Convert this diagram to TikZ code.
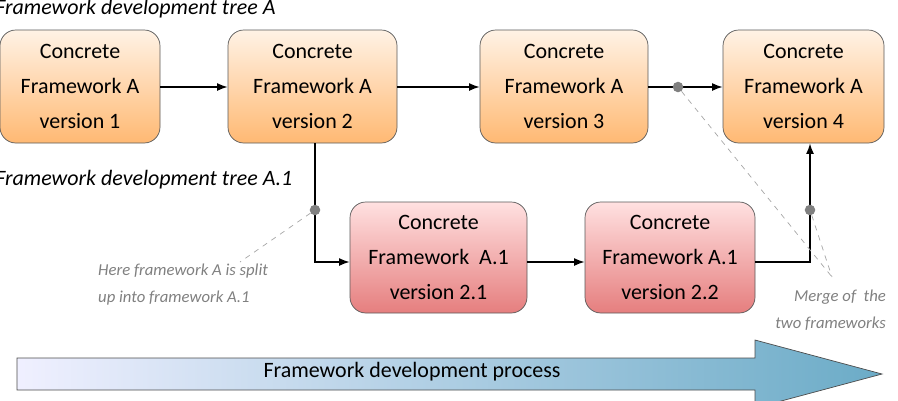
\documentclass[tikz,border=0pt]{standalone}
\usepackage{fontspec}
\setmainfont{Carlito}
\usetikzlibrary{arrows.meta}
\begin{document}
\begin{tikzpicture}[x=0.02cm,y=-0.02cm,
 fwA/.style={draw=gray!70!black,rounded corners=9pt,top color=orange!10,bottom color=orange!55!white,align=center,font=\fontsize{12.5}{20}\selectfont,inner sep=0pt},
 fwB/.style={draw=gray!70!black,rounded corners=9pt,top color=red!12,bottom color=red!45!white!90!black,align=center,font=\fontsize{12.5}{20}\selectfont,inner sep=0pt},
 conn/.style={thick,-{Latex[length=6pt]}},
 dotc/.style={circle,fill=gray,inner sep=0pt,minimum size=6pt},
 note/.style={gray,font=\itshape\fontsize{9.5}{15}\selectfont,align=left},
 guideline/.style={draw=gray!70,dashed}]
\useasboundingbox (0,0) rectangle (898,400);
\node[fwA,minimum width=160*0.02cm,minimum height=113*0.02cm] (a1) at (80,86.5) {Concrete\\Framework A\\version 1};
\node[fwA,minimum width=169*0.02cm,minimum height=113*0.02cm] (a2) at (312.5,86.5) {Concrete\\Framework A\\version 2};
\node[fwA,minimum width=168*0.02cm,minimum height=113*0.02cm] (a3) at (564,86.5) {Concrete\\Framework A\\version 3};
\node[fwA,minimum width=161*0.02cm,minimum height=113*0.02cm] (a4) at (803.5,86.5) {Concrete\\Framework A\\version 4};
\node[fwB,minimum width=177*0.02cm,minimum height=111*0.02cm] (b1) at (438.5,257.5) {Concrete\\Framework~ A.1\\version 2.1};
\node[fwB,minimum width=170*0.02cm,minimum height=111*0.02cm] (b2) at (670,257.5) {Concrete\\Framework A.1\\version 2.2};
\node[anchor=west,font=\itshape\fontsize{12.5}{14}\selectfont,inner sep=0pt] (t1) at (-5,9) {Framework development tree A};
\node[anchor=west,font=\itshape\fontsize{12.5}{14}\selectfont,inner sep=0pt] (t2) at (-5,180) {Framework development tree A.1};
\draw[conn] (a1.east|-0,87) -- (a2.west|-0,87);
\draw[conn] (a2.east|-0,87) -- (a3.west|-0,87);
\draw[conn] (a3.east|-0,87) -- (a4.west|-0,87);
\draw[conn] (a2.south-|315,0) -- (315,262) -- (b1.west|-0,262);
\draw[conn] (b1.east|-0,262) -- (b2.west|-0,262);
\draw[conn] (b2.east|-0,262) -- (810,262) -- (a4.south-|810,0);
\node[dotc] (d1) at (315,210) {};
\node[dotc] (d2) at (678,87) {};
\node[dotc] (d3) at (810,210) {};
\node[note,anchor=north west] (n1) at (92,258) {Here framework A is split\\up into framework A.1};
\node[note,anchor=north east,align=right] (n2) at (892,284) {Merge of~ the\\two frameworks};
\coordinate (m) at (832,277);
\coordinate (m1) at (240,262);
\draw[guideline] (d1) -- (m1);
\draw[guideline] (d2) -- (m);
\draw[guideline] (d3) -- (m);
\draw[draw=gray!60!black,left color=blue!6,right color=blue!30!cyan!45!gray!80] (17,358) -- (755,358) -- (755,340) -- (882,374) -- (755,408) -- (755,390) -- (17,390) -- cycle;
\node[font=\fontsize{12.5}{14}\selectfont] (pt) at (412,372) {Framework development process};
\end{tikzpicture}
\end{document}
